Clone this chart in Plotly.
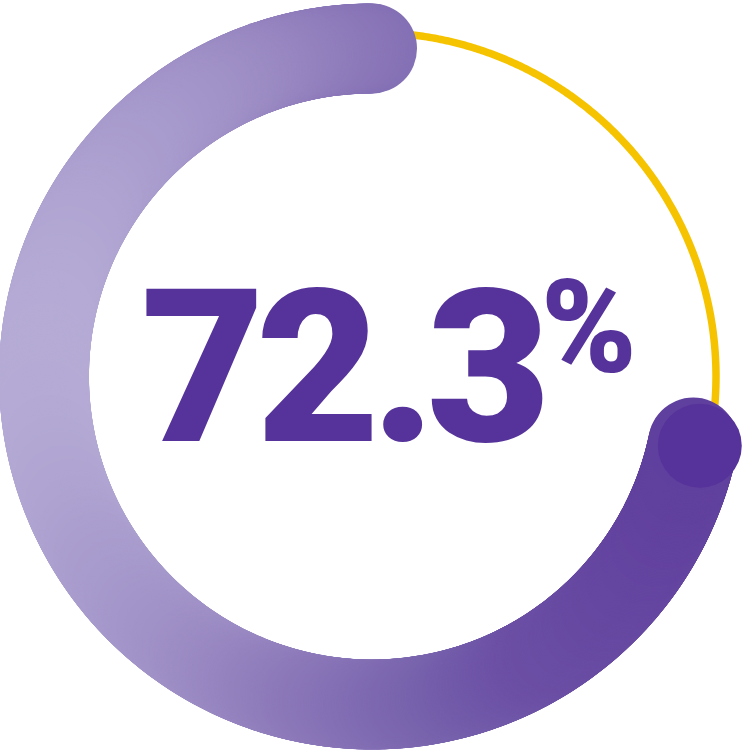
import numpy as np
import plotly.graph_objects as go

# ---- data ----
value_pct = [72.3]            # progress value (percent)
value_label = ["72.3"]        # central label
unit_label = ["%"]            # unit label

# ---- styling ----
W, H = 744, 753
R_BAND = 328                  # band centerline radius (radial units = px)
R_TRACK = 344                 # yellow track radius
BAND_PX = 90
CAP_SHIFT_DEG = 1.9           # visual inset of the end cap
TEXT_COLOR = "#55339a"
TRACK_COLOR = "#f6c300"
grad_stops = [0, 100, 220, 300, 460, 540, 650, 744]
grad_cols = ["#bdb4da", "#ab9fcf", "#9c8cc4", "#8f7cbb", "#7661ac", "#6c50a5", "#6445a0", "#5c3b9b"]
colorscale = [[s / 744, c] for s, c in zip(grad_stops, grad_cols)]

v = value_pct[0]
start = 90.0
end = start + 360.0 * v / 100.0

theta_band = np.linspace(start, end - CAP_SHIFT_DEG, 900)
x_pos = R_BAND * np.cos(np.radians(theta_band)) + W / 2
theta_track = np.linspace(end - CAP_SHIFT_DEG, 450.0, 300)

fig = go.Figure()

fig.add_trace(go.Scatterpolar(
    r=[R_TRACK] * len(theta_track), theta=theta_track, mode="lines",
    line=dict(color=TRACK_COLOR, width=7.5), hoverinfo="skip", showlegend=False))

fig.add_trace(go.Scatterpolar(
    r=[R_BAND] * len(theta_band), theta=theta_band, mode="markers",
    marker=dict(size=BAND_PX, color=x_pos, colorscale=colorscale,
                cmin=0, cmax=W, line=dict(width=0), opacity=1),
    hoverinfo="skip", showlegend=False))

# darker end cap
fig.add_trace(go.Scatterpolar(
    r=[R_BAND + 7], theta=[end - CAP_SHIFT_DEG - 0.3], mode="markers",
    marker=dict(size=84, color="#55339a", line=dict(width=0)),
    hoverinfo="skip", showlegend=False))

fig.update_layout(
    width=W, height=H,
    margin=dict(l=0, r=0, t=0, b=0),
    paper_bgcolor="white", plot_bgcolor="white",
    polar=dict(
        domain=dict(x=[0, 1], y=[0, 1]),
        bgcolor="rgba(0,0,0,0)",
        radialaxis=dict(range=[0, W / 2], visible=False, showgrid=False),
        angularaxis=dict(visible=False, showgrid=False, rotation=0, direction="counterclockwise"),
    ),
    annotations=[
        dict(text='<span style="letter-spacing:-9px">' + value_label[0] + '</span>',
             x=545 / W, y=1 - 367 / H, xref="paper", yref="paper",
             xanchor="right", yanchor="middle", showarrow=False,
             font=dict(family="Roboto", size=214, color=TEXT_COLOR, weight=900)),
        dict(text=unit_label[0], x=539 / W, y=1 - 327 / H, xref="paper", yref="paper",
             xanchor="left", yanchor="middle", showarrow=False,
             font=dict(family="Roboto", size=129, color=TEXT_COLOR, weight=900)),
    ],
)

fig.write_html("out.html", config={"displayModeBar": False},
               post_script="document.body.style.margin='0';document.body.style.overflow='hidden';")
